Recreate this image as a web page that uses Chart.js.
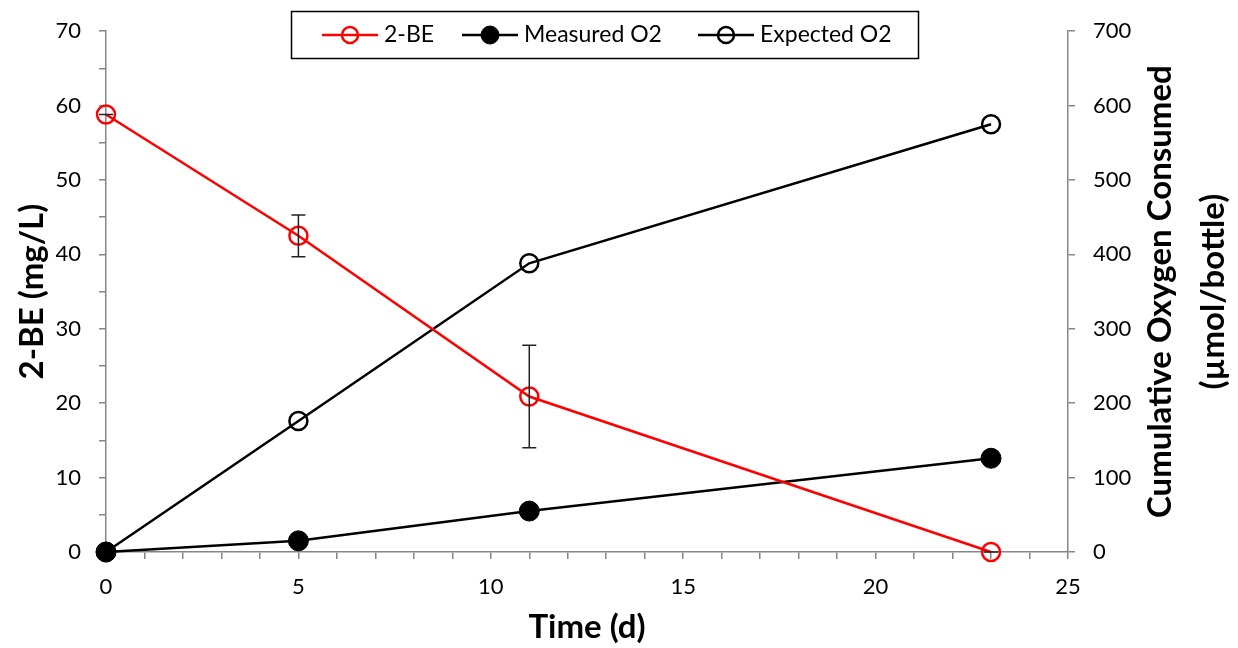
<!DOCTYPE html>
<html>
<head>
<meta charset="utf-8">
<title>2-BE degradation and oxygen consumption</title>
<script src="https://cdn.jsdelivr.net/npm/chart.js@4.4.0/dist/chart.umd.min.js"></script>
<style>
  html, body { margin: 0; padding: 0; background: #fff; }
  #chart { display: block; }
</style>
</head>
<body>
<canvas id="chart" width="1238" height="648"></canvas>
<script>
// ── Data ──────────────────────────────────────────────────
const days = [0, 5, 11, 23];
const beConc = [58.8, 42.5, 20.9, 0];        // mg/L
const beLow = [58.8, 39.7, 14.0, 0];         // error bar bottom
const beHigh = [58.8, 45.3, 27.8, 0];        // error bar top
const measuredO2 = [0, 15, 55, 126];         // µmol/bottle
const expectedO2 = [0, 176, 388, 575];       // µmol/bottle

const xTicks = { min: 0, max: 25, step: 1, labelEvery: 5 };
const yTicks = { min: 0, max: 70, step: 5, labelEvery: 10 };
const y2Ticks = { min: 0, max: 700, step: 100 };

// ── Styling ───────────────────────────────────────────────
const FONT = "Lato, 'Open Sans', sans-serif";
const AXIS_GREY = "#868686";
const RED = "#ff0000";

const toPoints = (ys) => days.map((d, i) => ({ x: d, y: ys[i] }));

// Error bars on the 2-BE series, drawn from beLow/beHigh
const errorBars = {
  id: "errorBars",
  afterDatasetsDraw(chart) {
    const { ctx, scales } = chart;
    ctx.save();
    ctx.strokeStyle = "#222";
    ctx.lineWidth = 1.5;
    days.forEach((d, i) => {
      const x = scales.x.getPixelForValue(d);
      const yTop = scales.y.getPixelForValue(beHigh[i]);
      const yBot = scales.y.getPixelForValue(beLow[i]);
      ctx.beginPath();
      ctx.moveTo(x, yTop); ctx.lineTo(x, yBot);
      ctx.moveTo(x - 7, yTop); ctx.lineTo(x + 7, yTop);
      ctx.moveTo(x - 7, yBot); ctx.lineTo(x + 7, yBot);
      ctx.stroke();
    });
    ctx.restore();
  },
};

// Boxed legend across the top of the plot
const boxLegend = {
  id: "boxLegend",
  afterDraw(chart) {
    const { ctx } = chart;
    const box = { x: 291.5, y: 11.5, w: 627, h: 47 };
    const entries = [
      { ds: 0, x: 322 },
      { ds: 1, x: 462 },
      { ds: 2, x: 698 },
    ];
    ctx.save();
    ctx.fillStyle = "#fff";
    ctx.fillRect(box.x, box.y, box.w, box.h);
    ctx.strokeStyle = "#000";
    ctx.lineWidth = 1.5;
    ctx.strokeRect(box.x, box.y, box.w, box.h);
    const cy = box.y + box.h / 2;
    entries.forEach((e) => {
      const ds = chart.data.datasets[e.ds];
      ctx.strokeStyle = ds.borderColor;
      ctx.lineWidth = ds.borderWidth;
      ctx.beginPath();
      ctx.moveTo(e.x, cy); ctx.lineTo(e.x + 56, cy);
      ctx.stroke();
      ctx.beginPath();
      ctx.arc(e.x + 28, cy, ds.pointRadius - 1, 0, Math.PI * 2);
      if (ds.pointBackgroundColor !== "transparent") {
        ctx.fillStyle = ds.pointBackgroundColor;
        ctx.fill();
      }
      ctx.lineWidth = ds.pointBorderWidth;
      ctx.strokeStyle = ds.pointBorderColor;
      ctx.stroke();
      ctx.fillStyle = "#000";
      ctx.font = `23px ${FONT}`;
      ctx.textBaseline = "middle";
      ctx.textAlign = "left";
      ctx.fillText(ds.label, e.x + 62, cy);
    });
    ctx.restore();
  },
};

// Right-hand axis title, reading bottom to top
const rightTitle = {
  id: "rightTitle",
  afterDraw(chart) {
    const { ctx, chartArea } = chart;
    const cy = (chartArea.top + chartArea.bottom) / 2;
    const lines = [
      { text: "Cumulative Oxygen Consumed", x: 1160 },
      { text: "(µmol/bottle)", x: 1213 },
    ];
    lines.forEach((l) => {
      ctx.save();
      ctx.fillStyle = "#000";
      ctx.font = `bold 33px ${FONT}`;
      ctx.textAlign = "center";
      ctx.textBaseline = "middle";
      ctx.translate(l.x, cy);
      ctx.rotate(-Math.PI / 2);
      ctx.fillText(l.text, 0, 0);
      ctx.restore();
    });
  },
};

const tickFont = { family: FONT, size: 22 };
const titleFont = { family: FONT, size: 33, weight: "bold" };

new Chart(document.getElementById("chart"), {
  type: "line",
  data: {
    datasets: [
      {
        label: "2-BE",
        data: toPoints(beConc),
        yAxisID: "y",
        clip: false,
        borderColor: RED,
        borderWidth: 2.5,
        pointRadius: 9,
        pointBorderWidth: 2.5,
        pointBorderColor: RED,
        pointBackgroundColor: "transparent",
      },
      {
        label: "Measured O2",
        data: toPoints(measuredO2),
        yAxisID: "y2",
        clip: false,
        borderColor: "#000",
        borderWidth: 2.5,
        pointRadius: 10,
        pointBorderWidth: 1,
        pointBorderColor: "#000",
        pointBackgroundColor: "#000",
      },
      {
        label: "Expected O2",
        data: toPoints(expectedO2),
        yAxisID: "y2",
        clip: false,
        borderColor: "#000",
        borderWidth: 2.5,
        pointRadius: 9,
        pointBorderWidth: 2.5,
        pointBorderColor: "#000",
        pointBackgroundColor: "transparent",
      },
    ],
  },
  options: {
    responsive: false,
    animation: false,
    devicePixelRatio: 1,
    layout: { padding: { top: 28, left: 0, right: 0, bottom: 0 } },
    plugins: { legend: { display: false }, tooltip: { enabled: false } },
    scales: {
      x: {
        type: "linear",
        min: xTicks.min,
        max: xTicks.max,
        afterFit: (s) => { s.height = 96; },
        ticks: {
          stepSize: xTicks.step,
          autoSkip: false,
          maxRotation: 0,
          padding: 15,
          color: "#000",
          font: tickFont,
          callback: (v) => (v % xTicks.labelEvery === 0 ? v : ""),
        },
        grid: { drawOnChartArea: false, drawTicks: true, tickLength: 7, color: AXIS_GREY, lineWidth: 1.5 },
        border: { color: AXIS_GREY, width: 1.5 },
        title: { display: true, text: "Time (d)", color: "#000", font: titleFont, padding: { top: 0, bottom: 1 } },
      },
      y: {
        position: "left",
        min: yTicks.min,
        max: yTicks.max,
        afterFit: (s) => { s.width = 106; },
        ticks: {
          stepSize: yTicks.step,
          padding: 18,
          color: "#000",
          font: tickFont,
          callback: (v) => (v % yTicks.labelEvery === 0 ? v : ""),
        },
        grid: { drawOnChartArea: false, drawTicks: true, tickLength: 7, color: AXIS_GREY, lineWidth: 1.5 },
        border: { color: AXIS_GREY, width: 1.5 },
        title: { display: true, text: "2-BE (mg/L)", color: "#000", font: titleFont, padding: { top: 13, bottom: 0 } },
      },
      y2: {
        position: "right",
        min: y2Ticks.min,
        max: y2Ticks.max,
        afterFit: (s) => { s.width = 170; },
        ticks: { stepSize: y2Ticks.step, padding: 18, color: "#000", font: tickFont },
        grid: { drawOnChartArea: false, drawTicks: true, tickLength: 7, color: AXIS_GREY, lineWidth: 1.5 },
        border: { color: AXIS_GREY, width: 1.5 },
      },
    },
  },
  plugins: [errorBars, boxLegend, rightTitle],
});
</script>
</body>
</html>
